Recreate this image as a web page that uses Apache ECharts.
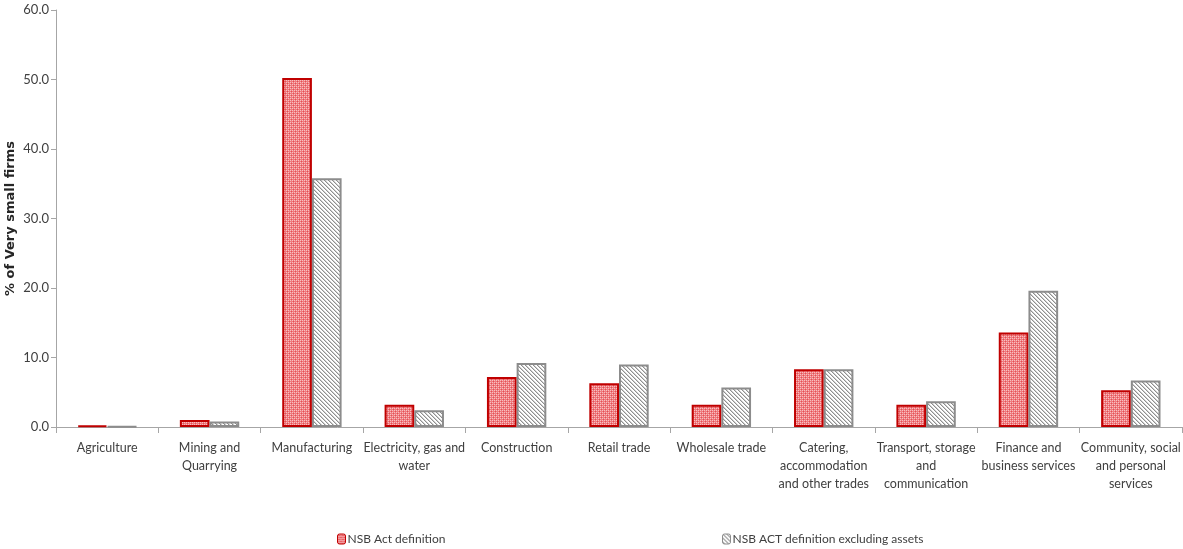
<!DOCTYPE html>
<html>
<head>
<meta charset="utf-8">
<script src="https://cdn.jsdelivr.net/npm/echarts@6/dist/echarts.min.js"></script>
<style>
  html, body { margin: 0; padding: 0; background: #fff; }
  #chart { width: 1183px; height: 549px; }
</style>
</head>
<body>
<div id="chart"></div>
<script>
// Sector labels (wrapped as shown under the axis)
const categories = [
  'Agriculture',
  'Mining and\nQuarrying',
  'Manufacturing',
  'Electricity, gas and\nwater',
  'Construction',
  'Retail trade',
  'Wholesale trade',
  'Catering,\naccommodation\nand other trades',
  'Transport, storage\nand\ncommunication',
  'Finance and\nbusiness services',
  'Community, social\nand personal\nservices'
];

const seriesNames = ['NSB Act definition', 'NSB ACT definition excluding assets'];

// % of very small firms by sector
const nsbActValues = [0.2, 1.0, 50.2, 3.2, 7.2, 6.3, 3.2, 8.3, 3.2, 13.6, 5.3];
const excludingAssetsValues = [0.1, 0.8, 35.8, 2.4, 9.2, 9.0, 5.7, 8.3, 3.7, 19.6, 6.7];

const yTicks = { min: 0, max: 60, interval: 10 };

// Fine checker fill for the red series
function checkerPattern() {
  const c = document.createElement('canvas');
  c.width = 4; c.height = 4;
  const g = c.getContext('2d');
  g.fillStyle = '#ee7a7e';
  g.fillRect(0, 0, 4, 4);
  g.fillStyle = '#f8bfc0';
  g.fillRect(0, 0, 1, 1);
  g.fillRect(2, 2, 1, 1);
  g.fillRect(2, 0, 1, 1);
  g.fillRect(0, 2, 1, 1);
  g.fillStyle = '#e54e53';
  g.fillRect(1, 1, 1, 1);
  g.fillRect(3, 3, 1, 1);
  return c;
}

// Diagonal hatch fill for the grey series
function hatchPattern() {
  const c = document.createElement('canvas');
  c.width = 4; c.height = 4;
  const g = c.getContext('2d');
  g.fillStyle = '#ffffff';
  g.fillRect(0, 0, 4, 4);
  g.fillStyle = '#8f8f8f';
  for (let i = 0; i < 4; i++) g.fillRect(i, i, 1, 1);
  g.fillStyle = '#cfcfcf';
  for (let i = 0; i < 4; i++) g.fillRect((i + 1) % 4, i, 1, 1);
  return c;
}

const font = "Lato, 'Open Sans', sans-serif";

const legendBase = {
  top: 528,
  itemWidth: 8, itemHeight: 10,
  itemStyle: { borderWidth: 1 },
  textStyle: { fontFamily: font, fontSize: 12, color: '#404040', padding: [0, 0, 0, -3] }
};

const chart = echarts.init(document.getElementById('chart'));
chart.setOption({
  animation: false,
  backgroundColor: '#ffffff',
  grid: { left: 56, right: 1, top: 10, bottom: 122, containLabel: false, outerBoundsMode: 'none' },
  legend: [
    Object.assign({ data: [seriesNames[0]], left: 332 }, legendBase),
    Object.assign({ data: [seriesNames[1]], left: 717 }, legendBase)
  ],
  xAxis: {
    type: 'category',
    data: categories,
    axisLine: { lineStyle: { color: '#a6a6a6', width: 1 } },
    axisTick: { show: true, length: 6, lineStyle: { color: '#a6a6a6' } },
    axisLabel: {
      interval: 0,
      margin: 12,
      fontFamily: font,
      fontSize: 12.5,
      color: '#404040',
      lineHeight: 18
    }
  },
  yAxis: {
    type: 'value',
    min: yTicks.min, max: yTicks.max, interval: yTicks.interval,
    name: '% of Very small firms',
    nameLocation: 'middle',
    nameGap: 39,
    nameMoveOverlap: false,
    nameTextStyle: { fontFamily: 'DejaVu Sans', fontWeight: 'bold', fontSize: 13, color: '#262626' },
    axisLine: { show: true, lineStyle: { color: '#a6a6a6', width: 1 } },
    axisTick: { show: true, length: 5, lineStyle: { color: '#a6a6a6' } },
    splitLine: { show: false },
    axisLabel: {
      margin: 7,
      fontFamily: font,
      fontSize: 13,
      color: '#404040',
      formatter: v => v.toFixed(1)
    }
  },
  series: [
    {
      name: seriesNames[0],
      type: 'bar',
      data: nsbActValues,
      barGap: '0%',
      barCategoryGap: '42%',
      itemStyle: {
        color: { image: checkerPattern(), repeat: 'repeat' },
        borderColor: '#c00000',
        borderWidth: 2
      }
    },
    {
      name: seriesNames[1],
      type: 'bar',
      data: excludingAssetsValues,
      barGap: '0%',
      barCategoryGap: '42%',
      itemStyle: {
        color: { image: hatchPattern(), repeat: 'repeat' },
        borderColor: '#8c8c8c',
        borderWidth: 2
      }
    }
  ]
});
</script>
</body>
</html>
